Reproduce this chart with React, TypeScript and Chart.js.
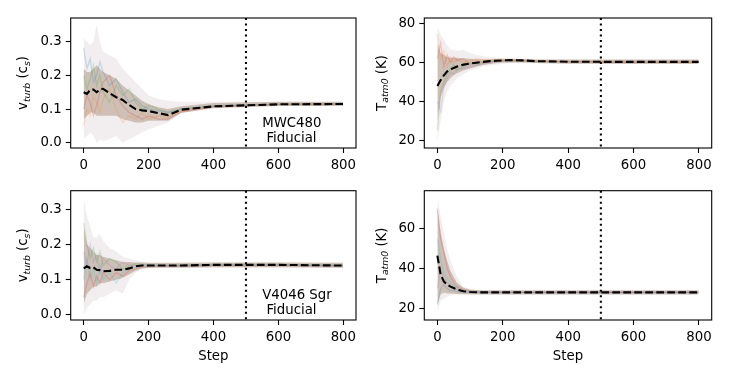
import { useEffect, useRef } from "react";
import { Chart, registerables } from "chart.js";
Chart.register(...registerables);

const FONT = "DejaVu Sans";
const FS = 13.3;

const steps = [0, 10, 20, 30, 40, 50, 60, 80, 100, 120, 140, 160, 180, 200, 230, 260, 300, 400, 600, 799];
const xTicks = [0, 200, 400, 600, 800];
const burnIn = 500;
const noteX = 550;

// MWC480 v_turb
const mwcVMean = [0.150, 0.145, 0.157, 0.158, 0.150, 0.158, 0.160, 0.147, 0.135, 0.127, 0.112, 0.100, 0.096, 0.094, 0.088, 0.082, 0.098, 0.108, 0.114, 0.115];
const mwcVUpper = [0.31, 0.30, 0.29, 0.30, 0.35, 0.30, 0.27, 0.26, 0.25, 0.22, 0.20, 0.18, 0.16, 0.14, 0.13, 0.125, 0.122, 0.122, 0.122, 0.122];
const mwcVLower = [0.01, 0.02, 0.03, 0.02, 0.0, 0.01, 0.005, 0.01, 0.02, 0.0, 0.01, 0.02, 0.03, 0.04, 0.05, 0.06, 0.088, 0.104, 0.109, 0.109];
const mwcVCoreUp = [0.22, 0.21, 0.21, 0.22, 0.23, 0.22, 0.21, 0.20, 0.19, 0.17, 0.155, 0.14, 0.125, 0.115, 0.105, 0.10, 0.108, 0.118, 0.122, 0.122];
const mwcVCoreLo = [0.07, 0.08, 0.09, 0.09, 0.08, 0.08, 0.08, 0.08, 0.08, 0.07, 0.065, 0.06, 0.06, 0.065, 0.065, 0.065, 0.088, 0.102, 0.109, 0.109];
const mwcVW1 = [0.28, 0.22, 0.25, 0.18, 0.20, 0.24, 0.21, 0.17, 0.19, 0.15, 0.12, 0.13, 0.11, 0.10, 0.095, 0.09, 0.10, 0.110, 0.115, 0.116];
const mwcVW2 = [0.05, 0.10, 0.08, 0.14, 0.12, 0.09, 0.13, 0.16, 0.10, 0.06, 0.08, 0.07, 0.09, 0.07, 0.08, 0.075, 0.095, 0.108, 0.114, 0.115];
const mwcVW3 = [0.20, 0.16, 0.19, 0.23, 0.17, 0.20, 0.15, 0.12, 0.17, 0.14, 0.16, 0.12, 0.10, 0.11, 0.10, 0.09, 0.10, 0.108, 0.113, 0.114];
const mwcVW4 = [0.10, 0.14, 0.12, 0.08, 0.11, 0.15, 0.18, 0.20, 0.14, 0.11, 0.09, 0.08, 0.07, 0.08, 0.07, 0.07, 0.092, 0.107, 0.114, 0.115];

// MWC480 T_atm0
const mwcTMean = [48, 51, 53.5, 55.5, 56.5, 57.3, 58, 59, 59.6, 60, 60.4, 60.8, 61, 61.2, 61.3, 61.2, 60.8, 60.5, 60.4, 60.4];
const mwcTUpper = [79, 74.5, 72, 69, 67, 66.5, 66, 66.5, 65, 64, 63.5, 63, 62.5, 62.3, 62, 62, 61.8, 61.6, 61.6, 61.6];
const mwcTLower = [19, 30, 40, 45, 48, 50, 52, 54, 56, 57, 58, 58.5, 59, 59.5, 59.8, 59.8, 59.7, 59.4, 59.3, 59.3];
const mwcTCoreUp = [70, 65, 64, 63, 62.5, 62.5, 62.5, 62.3, 62, 61.8, 61.7, 61.8, 61.9, 62, 62, 61.9, 61.7, 61.6, 61.6, 61.6];
const mwcTCoreLo = [30, 42, 47, 50, 52, 53.5, 54.5, 56, 57, 58, 58.8, 59.3, 59.7, 60, 60.1, 60.1, 59.8, 59.4, 59.3, 59.3];
const mwcTW1 = [75, 62, 66, 58, 63, 60, 62, 60, 61, 62, 61.5, 61.5, 61.8, 61.5, 61.4, 61.3, 61, 60.7, 60.5, 60.5];
const mwcTW2 = [25, 45, 50, 54, 57, 59, 56, 58, 60, 59, 60, 61, 60.5, 61, 61, 61, 60.6, 60.4, 60.3, 60.3];
const mwcTW3 = [62, 70, 58, 64, 60, 63, 61, 62, 59, 61, 60, 60.5, 61.2, 61, 61.2, 61, 60.8, 60.5, 60.4, 60.4];
const mwcTW4 = [40, 35, 48, 52, 55, 54, 57, 57, 58, 58.5, 59.5, 60, 60.5, 60.8, 61, 61, 60.7, 60.4, 60.3, 60.3];

// V4046 Sgr v_turb
const v4VMean = [0.132, 0.138, 0.133, 0.135, 0.128, 0.127, 0.124, 0.125, 0.128, 0.128, 0.132, 0.138, 0.140, 0.140, 0.140, 0.140, 0.140, 0.142, 0.142, 0.140];
const v4VUpper = [0.33, 0.28, 0.25, 0.22, 0.22, 0.23, 0.21, 0.19, 0.18, 0.165, 0.16, 0.155, 0.15, 0.149, 0.148, 0.148, 0.148, 0.149, 0.149, 0.148];
const v4VLower = [0.0, 0.02, 0.03, 0.04, 0.04, 0.05, 0.05, 0.06, 0.07, 0.06, 0.10, 0.12, 0.13, 0.133, 0.134, 0.134, 0.134, 0.134, 0.134, 0.133];
const v4VCoreUp = [0.25, 0.20, 0.19, 0.18, 0.17, 0.17, 0.165, 0.16, 0.155, 0.15, 0.15, 0.149, 0.149, 0.148, 0.148, 0.148, 0.148, 0.149, 0.149, 0.148];
const v4VCoreLo = [0.03, 0.06, 0.07, 0.08, 0.08, 0.09, 0.09, 0.095, 0.10, 0.105, 0.115, 0.125, 0.132, 0.133, 0.134, 0.134, 0.134, 0.135, 0.135, 0.134];
const v4VW1 = [0.26, 0.20, 0.16, 0.19, 0.15, 0.18, 0.14, 0.16, 0.15, 0.13, 0.14, 0.145, 0.143, 0.142, 0.141, 0.141, 0.141, 0.143, 0.143, 0.141];
const v4VW2 = [0.05, 0.09, 0.12, 0.08, 0.11, 0.09, 0.12, 0.10, 0.12, 0.11, 0.125, 0.13, 0.136, 0.137, 0.138, 0.138, 0.138, 0.140, 0.140, 0.139];
const v4VW3 = [0.18, 0.14, 0.20, 0.15, 0.17, 0.12, 0.16, 0.14, 0.13, 0.15, 0.14, 0.14, 0.142, 0.141, 0.140, 0.140, 0.141, 0.142, 0.142, 0.140];
const v4VW4 = [0.10, 0.16, 0.10, 0.13, 0.09, 0.14, 0.10, 0.12, 0.09, 0.12, 0.13, 0.135, 0.139, 0.139, 0.139, 0.139, 0.139, 0.141, 0.141, 0.139];

// V4046 Sgr T_atm0
const v4TMean = [46.5, 37, 33.5, 32, 31, 30.3, 29.5, 28.7, 28.3, 28.2, 28.1, 28.1, 28.1, 28.1, 28.1, 28.1, 28.1, 28.1, 28.1, 28.1];
const v4TUpper = [76, 66, 58, 50, 44, 40, 36, 31, 29.5, 29.3, 29.2, 29.2, 29.2, 29.2, 29.2, 29.2, 29.2, 29.2, 29.2, 29.2];
const v4TLower = [18, 24, 25, 26, 26.5, 27, 27.1, 27.1, 27.1, 27.1, 27.1, 27.1, 27.1, 27.1, 27.1, 27.1, 27.1, 27.1, 27.1, 27.1];
const v4TCoreUp = [70, 58, 50, 44, 39, 36, 33, 30.5, 29.5, 29.3, 29.2, 29.2, 29.2, 29.2, 29.2, 29.2, 29.2, 29.2, 29.2, 29.2];
const v4TCoreLo = [22, 27, 28, 27.5, 27.5, 27.4, 27.3, 27.2, 27.1, 27.1, 27.1, 27.1, 27.1, 27.1, 27.1, 27.1, 27.1, 27.1, 27.1, 27.1];
const v4TW1 = [70, 55, 48, 40, 36, 33, 31, 29.5, 28.8, 28.5, 28.3, 28.2, 28.2, 28.2, 28.2, 28.2, 28.2, 28.2, 28.2, 28.2];
const v4TW2 = [30, 40, 35, 33, 32, 30, 29.5, 28.5, 28.3, 28.2, 28.1, 28.1, 28.1, 28.1, 28.1, 28.1, 28.1, 28.1, 28.1, 28.1];
const v4TW3 = [55, 45, 38, 35, 33, 31.5, 30.5, 29, 28.6, 28.4, 28.2, 28.2, 28.1, 28.1, 28.1, 28.1, 28.1, 28.1, 28.1, 28.1];
const v4TW4 = [22, 30, 32, 30, 29, 29, 28.5, 28.2, 28.1, 28.0, 28.0, 28.0, 28.0, 28.0, 28.0, 28.0, 28.0, 28.0, 28.0, 28.0];

const vTicks = [0.0, 0.1, 0.2, 0.3];
const mwcTTicks = [20, 40, 60, 80];
const v4TTicks = [20, 40, 60];

const walkerColors = [
  "rgba(31,119,180,0.2)",
  "rgba(255,127,14,0.2)",
  "rgba(44,160,44,0.2)",
  "rgba(214,39,40,0.2)",
  "rgba(148,103,189,0.2)",
  "rgba(23,190,207,0.2)",
];

type Part = { t: string; sub?: boolean };
const vLabel: Part[] = [{ t: "v" }, { t: "turb", sub: true }, { t: " (c" }, { t: "s", sub: true }, { t: ")" }];
const tLabel: Part[] = [{ t: "T" }, { t: "atm0", sub: true }, { t: " (K)" }];

type Panel = {
  key: string;
  canvas: { left: number; top: number; w: number; h: number };
  yWidth: number;
  padTop: number;
  padRight: number;
  xHeight: number;
  yMin: number;
  yMax: number;
  yTicks: number[];
  fmt: (v: number) => string;
  mean: number[];
  upper: number[];
  lower: number[];
  coreUp: number[];
  coreLo: number[];
  walkers: number[][];
  label: Part[];
  labelX: number;
  note?: string[];
  stepTitle: boolean;
  colorOffset: number;
};

const panels: Panel[] = [
  {
    key: "tl", canvas: { left: 0, top: 0, w: 365, h: 175 }, yWidth: 70.7, padTop: 18, padRight: 9, xHeight: 27,
    yMin: -0.0157, yMax: 0.3704, yTicks: vTicks, fmt: (v) => v.toFixed(1),
    mean: mwcVMean, upper: mwcVUpper, lower: mwcVLower, coreUp: mwcVCoreUp, coreLo: mwcVCoreLo,
    walkers: [mwcVW1, mwcVW2, mwcVW3, mwcVW4],
    label: vLabel, labelX: 27, note: ["MWC480", " Fiducial"], stepTitle: false, colorOffset: 0,
  },
  {
    key: "tr", canvas: { left: 365, top: 0, w: 364, h: 175 }, yWidth: 59.3, padTop: 18, padRight: 17.3, xHeight: 27,
    yMin: 15.9, yMax: 83.1, yTicks: mwcTTicks, fmt: (v) => String(v),
    mean: mwcTMean, upper: mwcTUpper, lower: mwcTLower, coreUp: mwcTCoreUp, coreLo: mwcTCoreLo,
    walkers: [mwcTW1, mwcTW2, mwcTW3, mwcTW4],
    label: tLabel, labelX: 20.5, stepTitle: false, colorOffset: 1,
  },
  {
    key: "bl", canvas: { left: 0, top: 175, w: 365, h: 203 }, yWidth: 70.7, padTop: 15.7, padRight: 9, xHeight: 58,
    yMin: -0.0142, yMax: 0.352, yTicks: vTicks, fmt: (v) => v.toFixed(1),
    mean: v4VMean, upper: v4VUpper, lower: v4VLower, coreUp: v4VCoreUp, coreLo: v4VCoreLo,
    walkers: [v4VW1, v4VW2, v4VW3, v4VW4],
    label: vLabel, labelX: 27, note: ["V4046 Sgr", " Fiducial"], stepTitle: true, colorOffset: 2,
  },
  {
    key: "br", canvas: { left: 365, top: 175, w: 364, h: 203 }, yWidth: 59.3, padTop: 15.7, padRight: 17.3, xHeight: 58,
    yMin: 14.3, yMax: 79, yTicks: v4TTicks, fmt: (v) => String(v),
    mean: v4TMean, upper: v4TUpper, lower: v4TLower, coreUp: v4TCoreUp, coreLo: v4TCoreLo,
    walkers: [v4TW1, v4TW2, v4TW3, v4TW4],
    label: tLabel, labelX: 20.5, stepTitle: true, colorOffset: 3,
  },
];

const pts = (arr: number[]) => steps.map((s, i) => ({ x: s, y: arr[i] }));

function drawRichLabel(ctx: CanvasRenderingContext2D, x: number, cy: number, parts: Part[]) {
  const main = `${FS}px "${FONT}"`;
  const sub = `oblique ${FS * 0.7}px "${FONT}"`;
  let total = 0;
  const widths = parts.map((p) => {
    ctx.font = p.sub ? sub : main;
    const w = ctx.measureText(p.t).width;
    total += w;
    return w;
  });
  ctx.save();
  ctx.translate(x, cy);
  ctx.rotate(-Math.PI / 2);
  ctx.fillStyle = "#000";
  ctx.textBaseline = "alphabetic";
  ctx.textAlign = "left";
  let cx = -total / 2;
  parts.forEach((p, i) => {
    ctx.font = p.sub ? sub : main;
    ctx.fillText(p.t, cx, p.sub ? FS * 0.2 : 0);
    cx += widths[i];
  });
  ctx.restore();
}

function makeDecor(p: Panel) {
  return {
    id: "decor_" + p.key,
    afterDatasetsDraw(chart: any) {
      const { ctx, chartArea } = chart;
      const xs = chart.scales.x;
      const px = xs.getPixelForValue(burnIn);
      ctx.save();
      ctx.strokeStyle = "#000";
      ctx.lineWidth = 2.1;
      ctx.setLineDash([2.1, 3.4]);
      ctx.beginPath();
      ctx.moveTo(px, chartArea.top);
      ctx.lineTo(px, chartArea.bottom);
      ctx.stroke();
      ctx.restore();
    },
    afterDraw(chart: any) {
      const { ctx, chartArea } = chart;
      ctx.save();
      ctx.strokeStyle = "#000";
      ctx.lineWidth = 1.1;
      ctx.setLineDash([]);
      ctx.strokeRect(chartArea.left, chartArea.top, chartArea.right - chartArea.left, chartArea.bottom - chartArea.top);
      ctx.restore();
      drawRichLabel(ctx, p.labelX, (chartArea.top + chartArea.bottom) / 2, p.label);
      if (p.note) {
        const nx = chart.scales.x.getPixelForValue(noteX);
        ctx.save();
        ctx.font = `${FS}px "${FONT}"`;
        ctx.fillStyle = "#000";
        ctx.textAlign = "left";
        ctx.textBaseline = "alphabetic";
        ctx.fillText(p.note[0], nx, chartArea.bottom - 21.3);
        ctx.fillText(p.note[1], nx, chartArea.bottom - 6.3);
        ctx.restore();
      }
    },
  };
}

function PanelChart({ p }: { p: Panel }) {
  const ref = useRef<HTMLCanvasElement>(null);
  useEffect(() => {
    if (!ref.current) return;
    const bandBase = { borderColor: "rgba(0,0,0,0)", borderWidth: 0, pointRadius: 0 };
    const datasets: any[] = [
      { data: pts(p.mean), borderColor: "#000", borderWidth: 2.1, borderDash: [7.7, 3.3], pointRadius: 0, fill: false, order: 0 },
      ...p.walkers.map((w, i) => ({
        data: pts(w), borderColor: walkerColors[(i + p.colorOffset) % walkerColors.length], borderWidth: 1.4,
        pointRadius: 0, fill: false, order: 1,
      })),
      { ...bandBase, data: pts(p.coreUp), fill: "+1", backgroundColor: "rgba(168,142,122,0.48)", order: 2 },
      { ...bandBase, data: pts(p.coreLo), fill: false, order: 2 },
      { ...bandBase, data: pts(p.upper), fill: "+1", backgroundColor: "rgba(190,170,180,0.2)", order: 3 },
      { ...bandBase, data: pts(p.lower), fill: false, order: 3 },
    ];
    const tickFont = { family: FONT, size: FS };
    const chart = new Chart(ref.current, {
      type: "line",
      data: { datasets },
      options: {
        animation: false,
        responsive: false,
        devicePixelRatio: 1,
        layout: { padding: { left: 0, top: p.padTop, right: p.padRight, bottom: 0 } },
        plugins: { legend: { display: false }, tooltip: { enabled: false } },
        elements: { line: { tension: 0 } },
        scales: {
          x: {
            type: "linear",
            min: -40,
            max: 839,
            afterBuildTicks: (a: any) => { a.ticks = xTicks.map((v) => ({ value: v })); },
            afterFit: (a: any) => { a.height = p.xHeight; },
            grid: { display: true, drawOnChartArea: false, drawTicks: true, tickLength: 5, color: "#000", tickColor: "#000", tickWidth: 1.1 },
            border: { display: false },
            ticks: { font: tickFont, color: "#000", padding: 5, maxRotation: 0, autoSkip: false, callback: (v: any) => String(v) },
            title: { display: p.stepTitle, text: "Step", font: tickFont, color: "#000", padding: { top: 0, bottom: 13 } },
          },
          y: {
            type: "linear",
            min: p.yMin,
            max: p.yMax,
            afterBuildTicks: (a: any) => { a.ticks = p.yTicks.map((v) => ({ value: v })); },
            afterFit: (a: any) => { a.width = p.yWidth; },
            grid: { display: true, drawOnChartArea: false, drawTicks: true, tickLength: 5, color: "#000", tickColor: "#000", tickWidth: 1.1 },
            border: { display: false },
            ticks: { font: tickFont, color: "#000", padding: 4, autoSkip: false, callback: (v: any) => p.fmt(Number(v)) },
          },
        },
      },
      plugins: [makeDecor(p)],
    } as any);
    return () => chart.destroy();
  }, [p]);
  return (
    <canvas
      ref={ref}
      width={p.canvas.w}
      height={p.canvas.h}
      style={{ position: "absolute", left: p.canvas.left, top: p.canvas.top, width: p.canvas.w, height: p.canvas.h }}
    />
  );
}

export default function App() {
  return (
    <div style={{ position: "fixed", left: 0, top: 0, width: 729, height: 378, background: "#fff" }}>
      {panels.map((p) => (
        <PanelChart key={p.key} p={p} />
      ))}
    </div>
  );
}
